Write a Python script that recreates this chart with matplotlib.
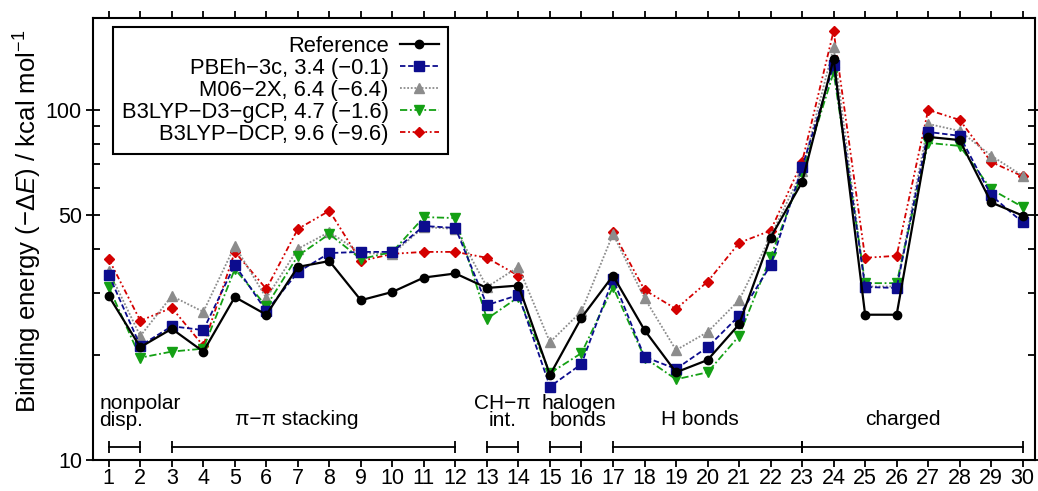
import numpy as np
import matplotlib
matplotlib.use("Agg")
import matplotlib.pyplot as plt
from matplotlib.ticker import FixedLocator, NullFormatter

plt.rcParams['font.family'] = ['Liberation Sans', 'DejaVu Sans']
plt.rcParams['mathtext.fontset'] = 'custom'
plt.rcParams['mathtext.rm'] = 'Liberation Sans'
plt.rcParams['mathtext.it'] = 'Liberation Sans:italic'

# binding energies (-dE, kcal/mol) for the 30 complexes
systems = np.arange(1, 31)
reference = [29.4, 21.0, 23.7, 20.4, 29.2, 26.0, 35.6, 37.0, 28.6, 30.2,
             33.2, 34.1, 31.0, 31.5, 17.5, 25.5, 33.6, 23.5, 17.8, 19.3,
             24.4, 43.2, 62.2, 140.0, 26.0, 26.0, 83.7, 82.0, 54.4, 49.9]
pbeh3c = [33.8, 21.2, 24.1, 23.5, 36.1, 26.6, 34.4, 39.0, 39.3, 39.3,
          46.6, 46.0, 27.7, 29.6, 16.2, 18.8, 32.9, 19.7, 18.2, 21.0,
          25.8, 36.0, 68.5, 134.0, 31.2, 31.0, 86.5, 84.3, 57.0, 47.7]
m062x = [34.7, 22.6, 29.4, 26.5, 40.9, 29.0, 40.1, 44.8, 39.0, 38.8,
         46.3, 45.7, 31.2, 35.6, 21.7, 26.6, 44.2, 29.0, 20.6, 23.2,
         28.6, 43.5, 67.0, 151.0, 31.3, 31.3, 91.2, 87.1, 74.0, 64.8]
d3gcp = [31.2, 19.6, 20.4, 20.8, 35.1, 27.5, 38.3, 44.2, 37.5, 39.3,
         49.4, 49.1, 25.3, 29.2, 17.7, 20.2, 31.2, 19.6, 17.0, 17.8,
         22.6, 38.0, 66.0, 128.0, 32.0, 32.0, 80.5, 78.9, 59.3, 52.8]
dcp = [37.5, 25.0, 27.2, 21.2, 39.3, 30.8, 45.7, 51.5, 37.0, 38.8,
       39.3, 39.3, 37.8, 33.6, np.nan, np.nan, 44.8, 30.6, 27.0, 32.3,
       41.7, 45.2, 71.0, 168.0, 37.8, 38.3, 100.0, 93.6, 71.0, 64.6]

labels = ["Reference",
          "PBEh\u22123c, 3.4 (\u22120.1)",
          "M06\u22122X, 6.4 (\u22126.4)",
          "B3LYP\u2212D3\u2212gCP, 4.7 (\u22121.6)",
          "B3LYP\u2212DCP, 9.6 (\u22129.6)"]

# interaction classes: (first, last) system of each group
groups = [(1, 2), (3, 12), (13, 14), (15, 16), (17, 23), (23, 30)]

fig = plt.figure(figsize=(10.38, 4.91), dpi=100)
ax = fig.add_axes([93 / 1038, 31 / 491, 942 / 1038, 442 / 491])

ax.plot(systems, reference, color='black', ls='-', lw=1.6, marker='o', ms=6,
        label=labels[0], zorder=6)
ax.plot(systems, pbeh3c, color='#0c0c8e', ls=(0, (3, 1.5)), lw=1.3, marker='s',
        ms=6.5, label=labels[1], zorder=5)
ax.plot(systems, m062x, color='#8c8c8c', ls=(0, (1, 1)), lw=1.3, marker='^',
        ms=7, label=labels[2], zorder=3)
ax.plot(systems, d3gcp, color='#14a014', ls=(0, (4, 1.5, 1, 1.5)), lw=1.3,
        marker='v', ms=7, label=labels[3], zorder=4)
ax.plot(systems, dcp, color='#d40000', ls=(0, (3, 1.5, 1, 1.5, 1, 1.5)), lw=1.3,
        marker='D', ms=5.5, label=labels[4], zorder=2)

ax.set_yscale('log')
ax.set_ylim(10, 183)
ax.set_xlim(0.5, 30.39)
ax.set_xticks(systems)
ax.set_yticks([10, 50, 100])
ax.set_yticklabels(['10', '50', '100'])
ax.yaxis.set_minor_locator(FixedLocator([20, 30, 40, 60, 70, 80, 90]))
ax.yaxis.set_minor_formatter(NullFormatter())

ax.tick_params(axis='x', which='both', direction='out', length=5, width=1.3,
               labelsize=15.5, pad=1, top=True)
ax.tick_params(axis='y', which='major', direction='inout', length=10, width=1.3,
               labelsize=15.5, pad=3, right=True)
ax.tick_params(axis='y', which='minor', direction='in', length=5, width=1.3,
               right=True)
for sp in ax.spines.values():
    sp.set_linewidth(1.5)

ax.set_ylabel("Binding energy (\u2212\u0394$\\it{E}$) / kcal mol$^{\u22121}$",
              fontsize=18.5)
ax.yaxis.set_label_coords(-0.052, 0.54)

# group brackets along the bottom
trans = ax.get_xaxis_transform()
for a, b in groups:
    ax.plot([a, b], [0.029, 0.029], color='black', lw=1.3, marker='|',
            ms=9, mew=1.3, transform=trans, clip_on=False)

# class names; y is the baseline of the last line
txt = dict(transform=trans, fontsize=15, va='baseline', linespacing=0.85)
ax.text(0.71, 0.077, "nonpolar\ndisp.", ha='left', multialignment='left', **txt)
ax.text(6.95, 0.079, "\u03c0\u2212\u03c0 stacking", ha='center', **txt)
ax.text(13.5, 0.077, "CH\u2212\u03c0\nint.", ha='center', multialignment='center',
        **txt)
ax.text(15.9, 0.077, "halogen\nbonds", ha='center', multialignment='center',
        **txt)
ax.text(19.75, 0.079, "H bonds", ha='center', **txt)
ax.text(26.2, 0.079, "charged", ha='center', **txt)

leg = ax.legend(loc='upper left', bbox_to_anchor=(0.0212, 0.98), borderaxespad=0,
                markerfirst=False, numpoints=1, fontsize=15.8, handlelength=1.8,
                handletextpad=0.5, labelspacing=0.05, borderpad=0.4,
                fancybox=False, framealpha=1, edgecolor='black')
leg.get_frame().set_linewidth(1.5)

fig.savefig("out.png", dpi=100)
